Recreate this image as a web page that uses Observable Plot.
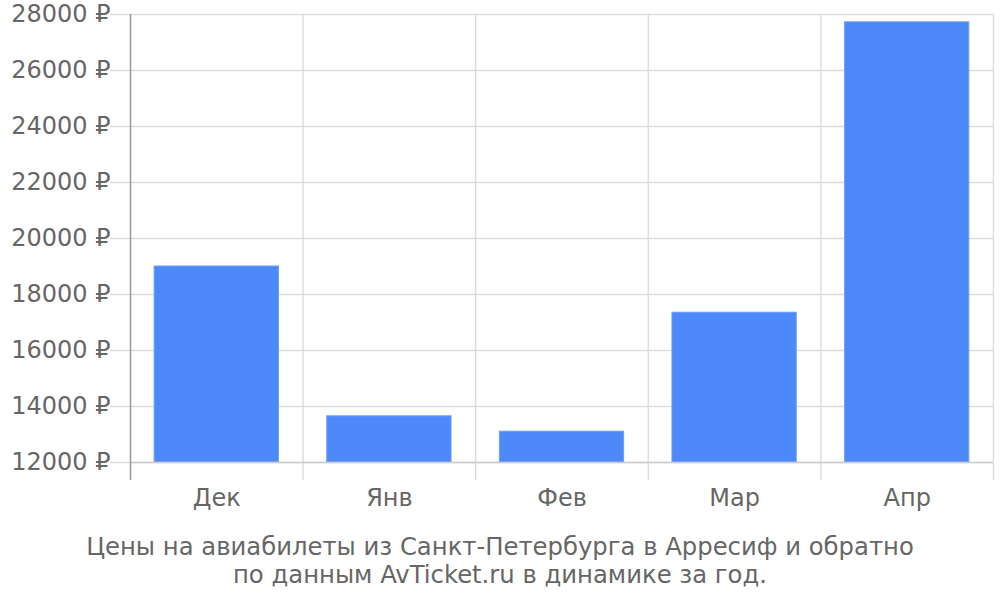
<!DOCTYPE html>
<html><head><meta charset="utf-8">
<script src="https://cdn.jsdelivr.net/npm/d3@7"></script>
<script src="https://cdn.jsdelivr.net/npm/@observablehq/plot@0.6"></script>
<style>
body{margin:0;background:#fff;font-family:"DejaVu Sans",sans-serif;}
#cap{width:1000px;text-align:center;color:#666;font-size:24.3px;line-height:28px;margin-top:18px;}
</style></head>
<body><div id="chart"></div>
<div id="cap">Цены на авиабилеты из Санкт-Петербурга в Арресиф и обратно<br>по данным AvTicket.ru в динамике за год.</div>
<script>
const months = ["Дек","Янв","Фев","Мар","Апр"];
const prices = [19000, 13650, 13100, 17350, 27720];
const yTicks = [12000,14000,16000,18000,20000,22000,24000,26000,28000];
const data = months.map((m,i)=>({i, month:m, price:prices[i]}));
const bounds = d3.range(months.length+1);
const centers = months.map((m,i)=>i+0.5);

const chart = Plot.plot({
  width:1000, height:515,
  marginLeft:130, marginRight:7, marginTop:14, marginBottom:53,
  style:{fontFamily:"DejaVu Sans", fontSize:"24px", color:"#666", background:"#fff"},
  x:{type:"linear", domain:[0, months.length], label:null},
  y:{domain:[12000,28000], label:null},
  marks:[
    Plot.ruleY(yTicks, {y:d=>d, stroke:"#ddd", strokeWidth:1.5, insetLeft:-20}),
    Plot.ruleX(bounds.slice(1), {x:d=>d, stroke:"#ddd", strokeWidth:1.5, insetBottom:-18}),
    Plot.rectY(data, {x1:d=>d.i+0.14, x2:d=>d.i+0.86, y1:12000, y2:"price", fill:"#4d89f9", stroke:"#6c9ef9", strokeWidth:1}),
    Plot.ruleY([12000], {stroke:"#ccc", strokeWidth:1.5}),
    Plot.ruleX([0], {stroke:"#999", strokeWidth:1.5, insetBottom:-18}),
    Plot.axisY({ticks:yTicks, tickSize:0, tickPadding:20, tickFormat:d=>d+" ₽", fill:"#666", fontSize:24, label:null}),
    Plot.axisX({ticks:centers, tickSize:0, tickPadding:26, tickFormat:d=>months[Math.floor(d)], fill:"#666", fontSize:24, label:null})
  ]
});
document.getElementById("chart").appendChild(chart);
</script></body></html>
